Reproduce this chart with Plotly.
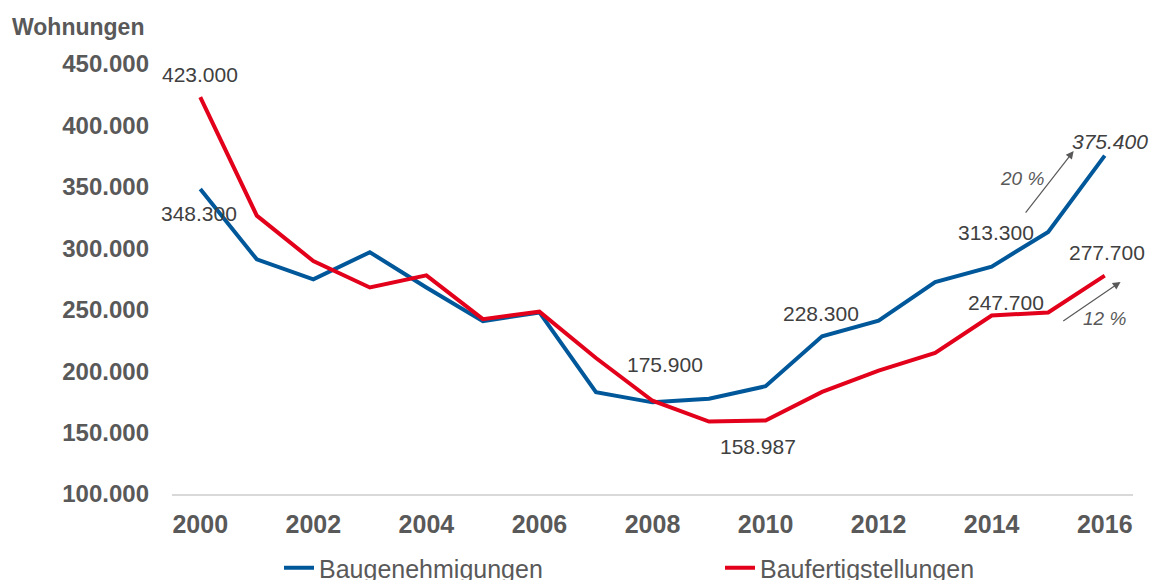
import plotly.graph_objects as go

years = list(range(2000, 2017))
baugenehmigungen = [348300, 291000, 274700, 296800, 268100, 240600, 247800, 182800,
                    174600, 177600, 187700, 228300, 241100, 272400, 285100, 313300, 375400]
baufertigstellungen = [423000, 326600, 289600, 268100, 278000, 242300, 248400, 210700,
                       175900, 158987, 159832, 183110, 200466, 214817, 245325, 247722, 277700]
series_names = ["Baugenehmigungen", "Baufertigstellungen"]
x_ticks = list(range(2000, 2017, 2))
y_ticks = list(range(100000, 450001, 50000))

BLUE = "#00589A"
RED = "#E3001B"
TICK = "#595959"
LABEL = "#404040"
FONT = "Liberation Sans, Arial, sans-serif"

W, H = 1150, 580

fig = go.Figure()
fig.add_trace(go.Scatter(x=years, y=baugenehmigungen, name=series_names[0], mode="lines",
                         line=dict(color=BLUE, width=4), legend="legend", showlegend=True))
fig.add_trace(go.Scatter(x=years, y=baufertigstellungen, name=series_names[1], mode="lines",
                         line=dict(color=RED, width=4), legend="legend2", showlegend=True))

def lab(x, y, text, xs=0, ys=0, italic=False):
    fig.add_annotation(x=x, y=y, text=text, showarrow=False, xshift=xs, yshift=ys,
                       font=dict(family=FONT, size=21, color=LABEL,
                                 style="italic" if italic else "normal"))

def fmt(v):
    return f"{v:,}".replace(",", ".")

lab(years[0], baufertigstellungen[0], fmt(baufertigstellungen[0]), 0, 23)
lab(years[0], baugenehmigungen[0], fmt(baugenehmigungen[0]), -1, -25)
lab(years[8], baufertigstellungen[8], fmt(baufertigstellungen[8]), 12, 36)
lab(years[9], baufertigstellungen[9], fmt(baufertigstellungen[9]), 49, -25)
lab(years[11], baugenehmigungen[11], fmt(baugenehmigungen[11]), -1, 23)
lab(years[15], baugenehmigungen[15], fmt(baugenehmigungen[15]), -52, -1)
lab(years[16], baugenehmigungen[16], fmt(baugenehmigungen[16]), 5, 14, italic=True)
lab(years[16], baufertigstellungen[16], fmt(277700), 2, 23)
lab(years[15], baufertigstellungen[15], "247.700", -42, 10)

# growth arrows
ARROW = "#595959"
fig.add_annotation(x=2015.45, y=379200, ax=2014.58, ay=327900, xref="x", yref="y",
                   axref="x", ayref="y", showarrow=True, arrowhead=2, arrowsize=1.3,
                   arrowwidth=1.2, arrowcolor=ARROW, text="")
fig.add_annotation(x=2016.28, y=272600, ax=2015.24, ay=240000, xref="x", yref="y",
                   axref="x", ayref="y", showarrow=True, arrowhead=2, arrowsize=1.3,
                   arrowwidth=1.2, arrowcolor=ARROW, text="")
fig.add_annotation(x=2014.53, y=357200, text="20 %", showarrow=False,
                   font=dict(family=FONT, size=19, color=TICK, style="italic"))
fig.add_annotation(x=2016.0, y=243250, text="12 %", showarrow=False,
                   font=dict(family=FONT, size=19, color=TICK, style="italic"))

fig.add_annotation(xref="paper", yref="paper", x=0, y=1, xshift=-162, yshift=37,
                   xanchor="left", yanchor="middle", text="<b>Wohnungen</b>", showarrow=False,
                   font=dict(family=FONT, size=23, color=TICK))

fig.update_layout(
    width=W, height=H,
    margin=dict(l=172, r=17, t=64, b=86, autoexpand=False),
    paper_bgcolor="white", plot_bgcolor="white",
    separators=",.",
    showlegend=True,
    font=dict(family=FONT, color=TICK),
    xaxis=dict(range=[1999.5, 2016.5], tickvals=x_ticks, showgrid=False, zeroline=False,
               showline=True, linecolor="#D9D9D9", linewidth=1.5, ticks="",
               ticklabelstandoff=7,
               tickfont=dict(family=FONT, size=25, color=TICK, weight="bold")),
    yaxis=dict(range=[100000, 450000], tickvals=y_ticks, tickformat=",.0f", showgrid=False,
               zeroline=False, showline=False, ticks="", ticklabelstandoff=22,
               tickfont=dict(family=FONT, size=24, color=TICK, weight="bold")),
    legend=dict(xref="container", yref="container", x=279/W, y=1-568/H,
                xanchor="left", yanchor="middle", bgcolor="rgba(0,0,0,0)",
                font=dict(family=FONT, size=25, color=TICK)),
    legend2=dict(xref="container", yref="container", x=720/W, y=1-568/H,
                 xanchor="left", yanchor="middle", bgcolor="rgba(0,0,0,0)",
                 font=dict(family=FONT, size=25, color=TICK)),
)

fig.write_html("out.html", config={"displayModeBar": False},
               post_script="document.body.style.margin='0';document.body.style.overflow='hidden';")
